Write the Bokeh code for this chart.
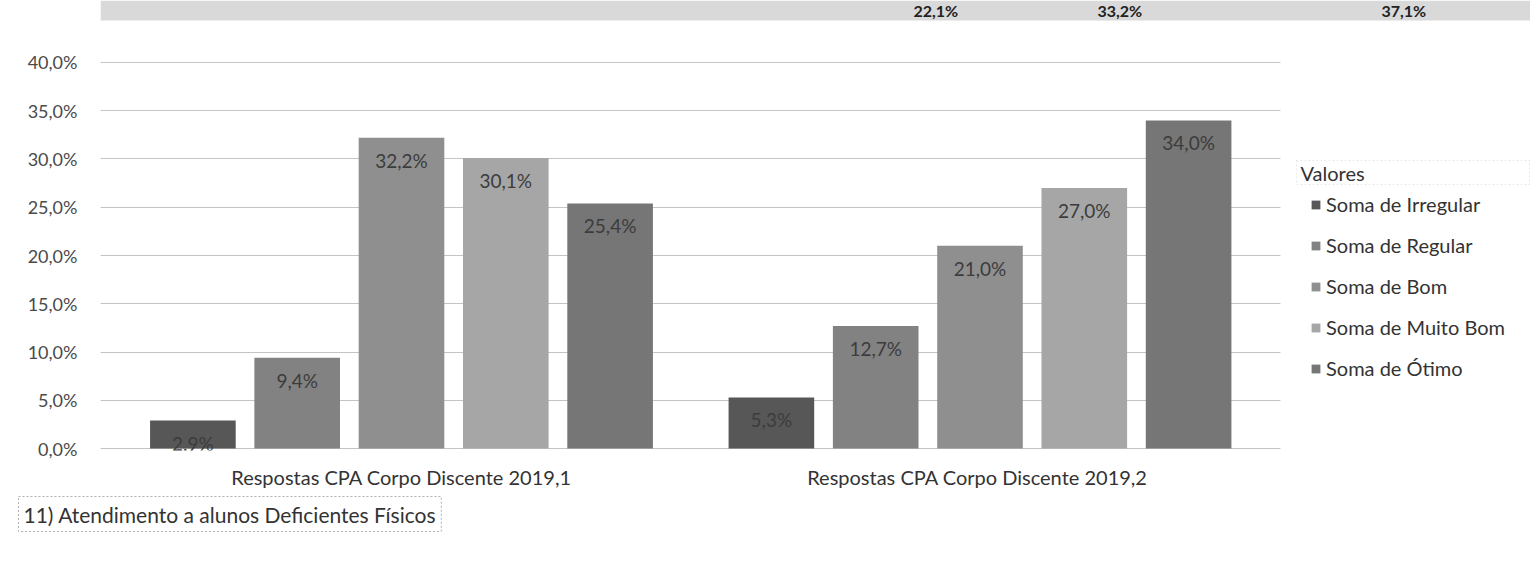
from bokeh.plotting import figure
from bokeh.models import (Range1d, FixedTicker, Legend, LegendItem,
                          Label, ColumnDataSource, BoxAnnotation, Title)
from bokeh.core.properties import value
from bokeh.embed import file_html
from bokeh.resources import INLINE

# ---- data ----
groups = ["Respostas CPA Corpo Discente 2019,1", "Respostas CPA  Corpo Discente 2019,2"]
series = ["Soma de Irregular", "Soma de Regular", "Soma de Bom", "Soma de Muito Bom", "Soma de Ótimo"]
vals_2019_1 = [0.029, 0.094, 0.322, 0.301, 0.254]
vals_2019_2 = [0.053, 0.127, 0.210, 0.270, 0.340]
colors = ["#575757", "#828282", "#8f8f8f", "#a6a6a6", "#767676"]
y_ticks = [0.0, 0.05, 0.10, 0.15, 0.20, 0.25, 0.30, 0.35, 0.40]
y_tick_labels = ["0,0%", "5,0%", "10,0%", "15,0%", "20,0%", "25,0%", "30,0%", "35,0%", "40,0%"]
chart_title = "11) Atendimento a alunos Deficientes Físicos"
legend_title = "Valores"
top_strip_texts = ["22,1%", "33,2%", "37,1%"]

FONT = "Lato"
W, H = 1530, 560
FL = 100
FRAME_H = 450
FB = H - FRAME_H

# group centers at 0 and 1 on a numeric axis
x0, x1 = -0.5203, 1.9516
p = figure(width=W, height=H, x_range=Range1d(x0, x1), y_range=Range1d(-0.002, 0.4642),
           output_backend="svg", toolbar_location=None,
           min_border_left=FL, min_border_right=0, min_border_top=0, min_border_bottom=FB)
p.outline_line_color = None
p.background_fill_color = "white"
p.border_fill_color = "white"

STEP = 0.1803
BW = 0.148
renderers = []
all_vals = [vals_2019_1, vals_2019_2]
group_pos = list(range(len(groups)))
for i, s in enumerate(series):
    ys = [all_vals[k][i] for k in range(len(groups))]
    xs = [g + (i - 2) * STEP for g in group_pos]
    src = ColumnDataSource(dict(x=xs, top=ys,
                                lab=[f"{v*100:.1f}".replace(".", ",") + "%" for v in ys]))
    r = p.vbar(x="x", top="top", width=BW, source=src,
               fill_color=colors[i], line_color=None)
    renderers.append(r)
    p.text(x="x", y="top", text="lab", source=src,
           text_align="center", text_baseline="top", y_offset=11,
           text_font=value(FONT), text_font_size="19px", text_color="#3c3c3c")

# axes
p.yaxis.ticker = FixedTicker(ticks=y_ticks)
p.yaxis.major_label_overrides = {t: l for t, l in zip(y_ticks, y_tick_labels)}
p.yaxis.axis_line_color = None
p.yaxis.major_tick_line_color = None
p.yaxis.minor_tick_line_color = None
p.yaxis.major_label_standoff = 17
p.yaxis.major_label_text_font = FONT
p.yaxis.major_label_text_font_size = "18px"
p.yaxis.major_label_text_color = "#4a4a4a"

p.ygrid.ticker = FixedTicker(ticks=y_ticks)
p.ygrid.grid_line_color = "#c4c4c4"
p.ygrid.grid_line_width = 1
p.xgrid.grid_line_color = None

p.xaxis.ticker = FixedTicker(ticks=group_pos)
p.xaxis.major_label_overrides = {g: name for g, name in zip(group_pos, groups)}
p.xaxis.axis_line_color = None
p.xaxis.major_tick_line_color = None
p.xaxis.minor_tick_line_color = None
p.xaxis.major_label_standoff = 8
p.xaxis.major_label_text_font = FONT
p.xaxis.major_label_text_font_size = "20px"
p.xaxis.major_label_text_color = "#333333"

# mask: grid stops before the legend area
p.add_layout(BoxAnnotation(left=1.5194, fill_color="white", fill_alpha=1,
                           line_color=None, level="underlay"))

# legend
legend = Legend(items=[LegendItem(label=s, renderers=[r]) for s, r in zip(series, renderers)],
                location=(1210, 70), orientation="vertical",
                label_text_font=FONT, label_text_font_size="20px",
                label_text_color="#333333", glyph_width=11, glyph_height=11,
                label_height=24, spacing=17, padding=0, margin=0,
                border_line_color=None, background_fill_alpha=0, label_standoff=5)
p.add_layout(legend, "center")

p.add_layout(BoxAnnotation(left=1196, right=1429, top=290, bottom=266,
                           left_units="screen", right_units="screen",
                           top_units="screen", bottom_units="screen",
                           fill_alpha=0, line_color="#b5b5b5", line_dash="2 2",
                           line_width=1))
p.add_layout(Label(x=1200, y=278, x_units="screen", y_units="screen", text=legend_title,
                   text_font=FONT, text_font_size="20px", text_color="#333333",
                   text_baseline="middle"))

# chart title box below
t = Title(text=chart_title, align="left", offset=-82, text_font=FONT,
          text_font_size="21px", text_font_style="normal", text_color="#333333",
          border_line_color="#b0b0b0", border_line_dash="2 2", padding=5,
          background_fill_color="white", standoff=6)
p.add_layout(t, "below")

# top strip (row of a table above the chart)
p.add_layout(BoxAnnotation(top=FRAME_H, bottom=FRAME_H - 20,
                           top_units="screen", bottom_units="screen",
                           fill_color="#d9d9d9", fill_alpha=1, line_color=None,
                           level="underlay"))
for txt, sx in zip(top_strip_texts, [913, 1097, 1381]):
    p.add_layout(Label(x=sx - FL, y=FRAME_H - 10, x_units="screen", y_units="screen", text=txt,
                       text_font=FONT, text_font_size="16px", text_font_style="bold",
                       text_color="#222222", text_baseline="middle"))

open("out.html", "w").write(file_html(p, INLINE))
